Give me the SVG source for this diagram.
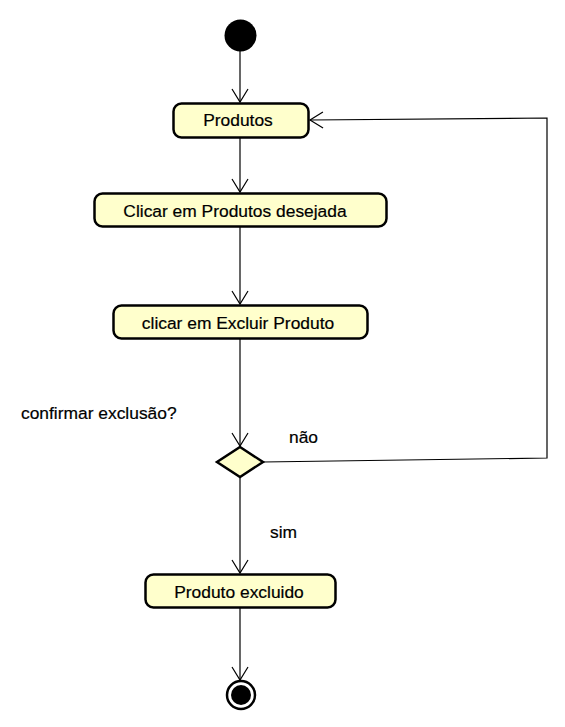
<svg xmlns="http://www.w3.org/2000/svg" width="565" height="727" viewBox="0 0 565 727">
<defs>
<style>
.act{fill:#ffffcc;stroke:#000;stroke-width:2.5}
.lbl{font-family:"Liberation Sans",Arial,sans-serif;font-size:17.4px;fill:#000;stroke:#000;stroke-width:0.2}
.c{text-anchor:middle}
.edge{fill:none;stroke:#000;stroke-width:1.2}
</style>
<marker id="arr" markerUnits="userSpaceOnUse" markerWidth="30" markerHeight="30" viewBox="-15 -15 30 30" refX="0" refY="0" orient="auto">
<path d="M-13,-8 L0,0 L-13,8" fill="none" stroke="#000" stroke-width="1.2"/>
</marker>
</defs>
<rect width="565" height="727" fill="#fff"/>
<g id="edges">
<line class="edge" x1="240" y1="51" x2="240" y2="102" marker-end="url(#arr)"/>
<line class="edge" x1="240" y1="138" x2="240" y2="192" marker-end="url(#arr)"/>
<line class="edge" x1="240" y1="227" x2="240" y2="304" marker-end="url(#arr)"/>
<line class="edge" x1="240" y1="338" x2="240" y2="446" marker-end="url(#arr)"/>
<line class="edge" x1="240" y1="477" x2="240" y2="573" marker-end="url(#arr)"/>
<line class="edge" x1="240" y1="608" x2="240" y2="680" marker-end="url(#arr)"/>
<polyline class="edge" points="263,462 547,458 547,118 310,120" marker-end="url(#arr)"/>
<text class="lbl" x="289" y="443">não</text>
<text class="lbl" x="270" y="538">sim</text>
</g>
<g id="start"><circle cx="240.5" cy="35.5" r="16" fill="#000"/></g>
<g id="produtos"><rect class="act" x="173.5" y="103.5" width="135" height="34" rx="8"/><text class="lbl c" x="238" y="126">Produtos</text></g>
<g id="clicar"><rect class="act" x="94.5" y="193.5" width="292" height="33" rx="8"/><text class="lbl c" x="235" y="217">Clicar em Produtos desejada</text></g>
<g id="excluir"><rect class="act" x="113.5" y="305.5" width="254" height="33" rx="8"/><text class="lbl c" x="238" y="329">clicar em Excluir Produto</text></g>
<g id="decisao"><polygon class="act" points="240,447 263,462 240,477 217,462"/><text class="lbl" x="21" y="419">confirmar exclusão?</text></g>
<g id="excluido"><rect class="act" x="145.5" y="574.5" width="190" height="33" rx="8"/><text class="lbl c" x="239" y="598">Produto excluido</text></g>
<g id="end"><circle cx="241" cy="695" r="14" fill="#fff" stroke="#000" stroke-width="2.5"/><circle cx="241" cy="695" r="10" fill="#000"/></g>
</svg>
